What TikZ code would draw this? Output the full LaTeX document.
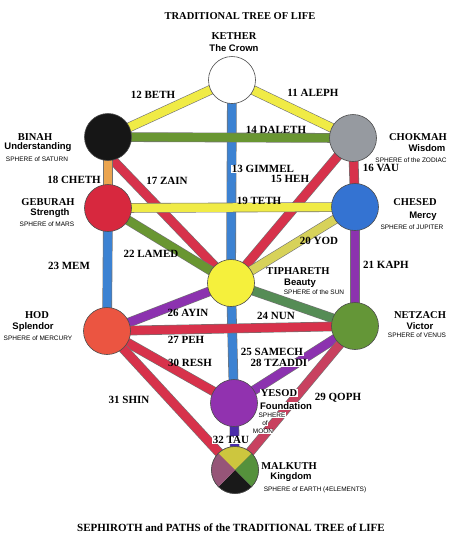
\documentclass[tikz,border=0pt]{standalone}
\usepackage{fontspec}
\setmainfont{Liberation Serif}
\setsansfont{Liberation Sans}
\usepackage{xcolor}

\definecolor{binahcol}{RGB}{22,22,22}
\definecolor{chokmahcol}{RGB}{150,154,160}
\definecolor{geburahcol}{RGB}{215,40,62}
\definecolor{chesedcol}{RGB}{52,115,210}
\definecolor{tipharethcol}{RGB}{245,240,60}
\definecolor{hodcol}{RGB}{235,85,65}
\definecolor{netzachcol}{RGB}{100,150,55}
\definecolor{yesodcol}{RGB}{145,50,175}
\definecolor{mtop}{RGB}{205,198,62}
\definecolor{mright}{RGB}{85,145,60}
\definecolor{mbottom}{RGB}{25,25,25}
\definecolor{mleft}{RGB}{150,85,120}
\definecolor{pyellow}{RGB}{240,235,70}
\definecolor{pgreen}{RGB}{105,150,50}
\definecolor{pblue}{RGB}{60,130,210}
\definecolor{pred}{RGB}{215,50,75}
\definecolor{porange}{RGB}{235,165,80}
\definecolor{ppurple}{RGB}{140,50,175}
\definecolor{polive}{RGB}{215,210,90}
\definecolor{pteal}{RGB}{85,140,85}
\definecolor{pindigo}{RGB}{75,45,170}
\definecolor{pcrimson}{RGB}{200,65,95}

\pgfdeclarelayer{bands}
\pgfsetlayers{bands,main}

\tikzset{
  sephira/.style={circle,draw=black!70,line width=0.6pt,minimum size=47pt,inner sep=0pt},
  band/.style={draw=black!55,line width=0.6pt,double=#1,double distance=8.5pt},
  pathlabel/.style={font=\bfseries\fontsize{11}{12}\selectfont,inner sep=0.5pt},
  sname/.style={font=\bfseries\fontsize{10.5}{12}\selectfont,inner sep=0.5pt},
  stitle/.style={font=\sffamily\bfseries\fontsize{9.5}{11}\selectfont,inner sep=0.5pt},
  spheretxt/.style={font=\sffamily\fontsize{6.5}{7}\selectfont,inner sep=0.3pt},
}

\begin{document}
\begin{tikzpicture}[x=1pt,y=-1pt]
            \useasboundingbox (0,0) rectangle (450,539);

            % the ten sephiroth
            \node (kether) at (232,80) [sephira,fill=white] {};
            \node (binah) at (108,137) [sephira,fill=binahcol] {};
            \node (chokmah) at (353,138) [sephira,fill=chokmahcol] {};
            \node (geburah) at (108,208) [sephira,fill=geburahcol] {};
            \node (chesed) at (355,207) [sephira,fill=chesedcol] {};
            \node (tiphareth) at (231,283) [sephira,fill=tipharethcol] {};
            \node (hod) at (107,331) [sephira,fill=hodcol] {};
            \node (netzach) at (355,326) [sephira,fill=netzachcol] {};
            \node (yesod) at (234,403) [sephira,fill=yesodcol] {};
            \node (malkuth) at (235,470) [sephira] {};

            \begin{scope}
              \clip (malkuth.center) circle (23.5pt);
              \fill[mtop] (malkuth.center) -- +(-30,-30) -- +(30,-30) -- cycle;
              \fill[mright] (malkuth.center) -- +(30,-30) -- +(30,30) -- cycle;
              \fill[mbottom] (malkuth.center) -- +(30,30) -- +(-30,30) -- cycle;
              \fill[mleft] (malkuth.center) -- +(-30,30) -- +(-30,-30) -- cycle;
            \end{scope}
            \draw[black!70,line width=0.6pt] (malkuth.center) circle (23.5pt);

            % the 22 paths
            \begin{pgfonlayer}{bands}
              \draw[band=pblue] (kether.center) -- (tiphareth.center);
              \draw[band=pblue] (tiphareth.center) -- (yesod.center);
              \draw[band=pyellow] (kether.center) -- (chokmah.center);
              \draw[band=pyellow] (kether.center) -- (binah.center);
              \draw[band=pgreen] (binah.center) -- (chokmah.center);
              \draw[band=pred] (chokmah.center) -- (tiphareth.center);
              \draw[band=pred] (chokmah.center) -- (chesed.center);
              \draw[band=pred] ([yshift=-18pt]binah.center) -- (tiphareth.center);
              \draw[band=porange] (binah.center) -- (geburah.center);
              \draw[band=pyellow] (geburah.center) -- (chesed.center);
              \draw[band=polive] (chesed.center) -- (tiphareth.center);
              \draw[band=ppurple] (chesed.center) -- (netzach.center);
              \draw[band=pgreen] (geburah.center) -- (tiphareth.center);
              \draw[band=pblue] (geburah.center) -- (hod.center);
              \draw[band=pteal] (tiphareth.center) -- (netzach.center);
              \draw[band=ppurple] (tiphareth.center) -- (hod.center);
              \draw[band=pred] (hod.center) -- (netzach.center);
              \draw[band=ppurple] (netzach.center) -- (yesod.center);
              \draw[band=pcrimson] (netzach.center) -- (malkuth.center);
              \draw[band=pred] (hod.center) -- (yesod.center);
              \draw[band=pred] (hod.center) -- (malkuth.center);
              \draw[band=pindigo] (yesod.center) -- (malkuth.center);
            \end{pgfonlayer}

            % titles
            \node (toptitle) at (240,16) [sname] {TRADITIONAL TREE OF LIFE};
            \node (bottomtitle) at (231,528) [font=\bfseries\fontsize{11}{12}\selectfont] {SEPHIROTH and PATHS of the TRADITIONAL TREE of LIFE};

            % names of the sephiroth
            \node (n-kether) at (234,36) [sname] {KETHER};
            \node (s-kether) at (234,48) [stitle] {The Crown};
            \node (n-binah) at (35,137) [sname] {BINAH};
            \node (s-binah) at (38,147.5) [stitle] {Understanding};
            \node (p-binah) at (37,159.5) [spheretxt] {SPHERE of SATURN};
            \node (n-chokmah) at (418,137) [sname] {CHOKMAH};
            \node (s-chokmah) at (427,148) [stitle] {Wisdom};
            \node (p-chokmah) at (411,160) [spheretxt] {SPHERE of the ZODIAC};
            \node (n-geburah) at (48,202) [sname] {GEBURAH};
            \node (s-geburah) at (50,213) [stitle] {Strength};
            \node (p-geburah) at (47,224) [spheretxt] {SPHERE of MARS};
            \node (n-chesed) at (415,202) [sname] {CHESED};
            \node (s-chesed) at (423,216) [stitle] {Mercy};
            \node (p-chesed) at (412,227) [spheretxt] {SPHERE of JUPITER};
            \node (n-tiphareth) at (298,271) [sname] {TIPHARETH};
            \node (s-tiphareth) at (300,283) [stitle] {Beauty};
            \node (p-tiphareth) at (314,292) [spheretxt] {SPHERE of the SUN};
            \node (n-hod) at (37,315) [sname] {HOD};
            \node (s-hod) at (33,327) [stitle] {Splendor};
            \node (p-hod) at (38,338) [spheretxt] {SPHERE of MERCURY};
            \node (n-netzach) at (420,315) [sname] {NETZACH};
            \node (s-netzach) at (420,326) [stitle] {Victor};
            \node (p-netzach) at (417,335) [spheretxt] {SPHERE of VENUS};
            \node (p-yesod) at (272,415) [spheretxt,fill=white] {SPHERE};
            \node (p-yesod2) at (265,423.5) [spheretxt,fill=white] {of};
            \node (p-yesod3) at (263,431.5) [spheretxt,fill=white] {MOON};
            \node (n-yesod) at (279,393) [sname,fill=white] {YESOD};
            \node (s-yesod) at (286,406) [stitle,fill=white] {Foundation};
            \node (n-malkuth) at (289,466) [sname] {MALKUTH};
            \node (s-malkuth) at (291,477) [stitle] {Kingdom};
            \node (p-malkuth) at (315,490) [spheretxt] {SPHERE of EARTH (4ELEMENTS)};

            % names of the paths
            \node (l11) at (313,93) [pathlabel] {11 ALEPH};
            \node (l12) at (153,95) [pathlabel] {12 BETH};
            \node (l13) at (263,169) [pathlabel,fill=white] {13 GIMMEL};
            \node (l14) at (276,129.5) [pathlabel] {14 DALETH};
            \node (l15) at (290,179) [pathlabel] {15 HEH};
            \node (l16) at (381,168) [pathlabel] {16 VAU};
            \node (l17) at (167,181) [pathlabel] {17 ZAIN};
            \node (l18) at (74,180) [pathlabel] {18 CHETH};
            \node (l19) at (259,201) [pathlabel] {19 TETH};
            \node (l20) at (319,241) [pathlabel] {20 YOD};
            \node (l21) at (386,265) [pathlabel] {21 KAPH};
            \node (l22) at (151,254) [pathlabel] {22 LAMED};
            \node (l23) at (69,266) [pathlabel] {23 MEM};
            \node (l24) at (276,316) [pathlabel] {24 NUN};
            \node (l25) at (272,352) [pathlabel,fill=white] {25 SAMECH};
            \node (l26) at (188,313) [pathlabel] {26 AYIN};
            \node (l27) at (186,340) [pathlabel] {27 PEH};
            \node (l28) at (279,363) [pathlabel,fill=white] {28 TZADDI};
            \node (l29) at (338,398) [pathlabel] {29 QOPH};
            \node (l30) at (190,363) [pathlabel] {30 RESH};
            \node (l31) at (129,400) [pathlabel] {31 SHIN};
            \node (l32) at (231,440) [pathlabel,fill=white] {32 TAU};

        \end{tikzpicture}
\end{document}
